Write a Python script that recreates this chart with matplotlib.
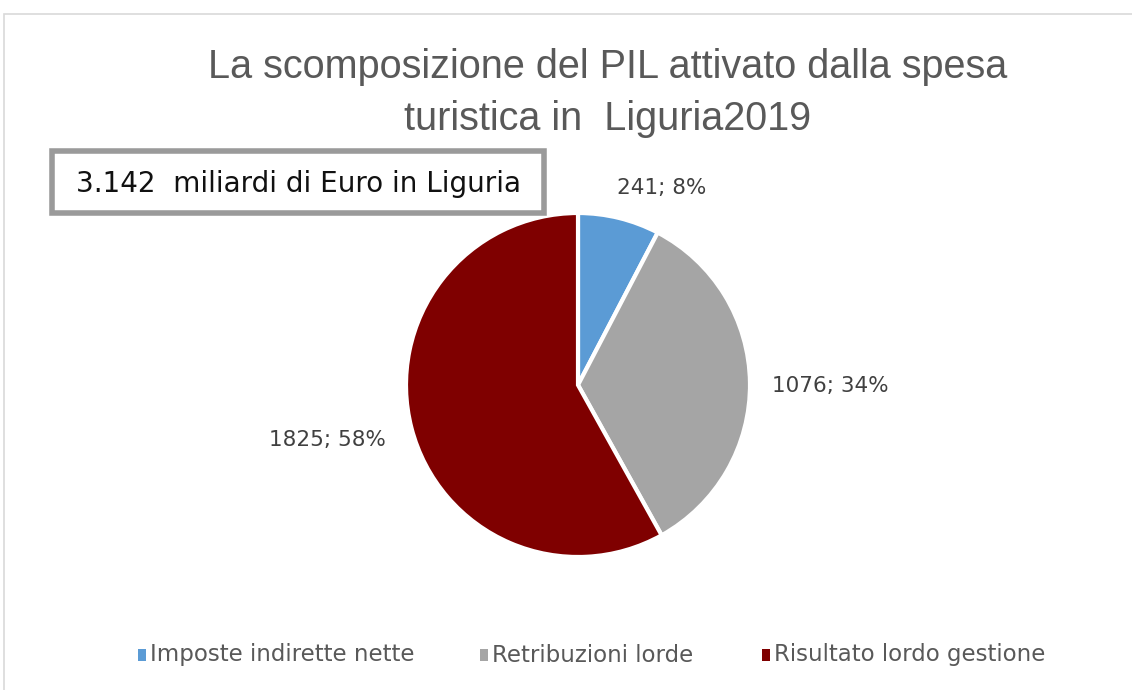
import matplotlib
matplotlib.use("Agg")
import matplotlib.pyplot as plt
from matplotlib.patches import Rectangle

categories = ["Imposte indirette nette", "Retribuzioni lorde", "Risultato lordo gestione"]
values = [241, 1076, 1825]
percents = ["8%", "34%", "58%"]
colors = ["#5B9BD5", "#A5A5A5", "#7F0000"]
title = "La scomposizione del PIL attivato dalla spesa\nturistica in  Liguria2019"
box_text = "3.142  miliardi di Euro in Liguria"

plt.rcParams["font.family"] = ["Liberation Sans", "DejaVu Sans"]

W, H = 1132, 690
fig = plt.figure(figsize=(W / 100, H / 100), dpi=100)
fig.patch.set_facecolor("white")

# chart frame
fig.add_artist(Rectangle((4 / W, -0.02), 1.1, 1 - 14 / H + 0.02, transform=fig.transFigure,
                         fill=False, edgecolor="#D9D9D9", lw=1.2))

fig.text(608 / W, 1 - 93 / H, title, ha="center", va="center", fontsize=28.5,
         color="#595959", linespacing=1.44)

# pie
cx, cy, r = 578, 385, 172
ax = fig.add_axes([(cx - r) / W, (H - cy - r) / H, 2 * r / W, 2 * r / H])
ax.pie(values, colors=colors, startangle=90, counterclock=False,
       wedgeprops=dict(edgecolor="white", linewidth=3), radius=1)
ax.set_xlim(-1, 1); ax.set_ylim(-1, 1); ax.set_aspect("equal")
ax.axis("off")

label_pos = [(662, 188), (830, 386), (327, 440)]
for v, p, (px, py) in zip(values, percents, label_pos):
    fig.text(px / W, 1 - py / H, f"{v}; {p}", ha="center", va="center",
             fontsize=15.5, color="#404040", family="DejaVu Sans")

# text box
fig.add_artist(Rectangle((52 / W, 1 - 213 / H), 492 / W, 62 / H, transform=fig.transFigure,
                         facecolor="white", edgecolor="#9A9A9A", lw=4))
fig.text(298 / W, 1 - 184 / H, box_text, ha="center", va="center", fontsize=20,
         color="#111111", family="DejaVu Sans")

# legend
leg_x = [138, 480, 762]
for c, name, lx in zip(colors, categories, leg_x):
    fig.add_artist(Rectangle((lx / W, 1 - 661 / H), 8 / W, 12 / H, transform=fig.transFigure,
                             facecolor=c, edgecolor="none"))
    fig.text((lx + 12) / W, 1 - 655 / H, name, ha="left", va="center", fontsize=16.5,
             color="#595959", family="DejaVu Sans")

fig.savefig("out.png", dpi=100)
